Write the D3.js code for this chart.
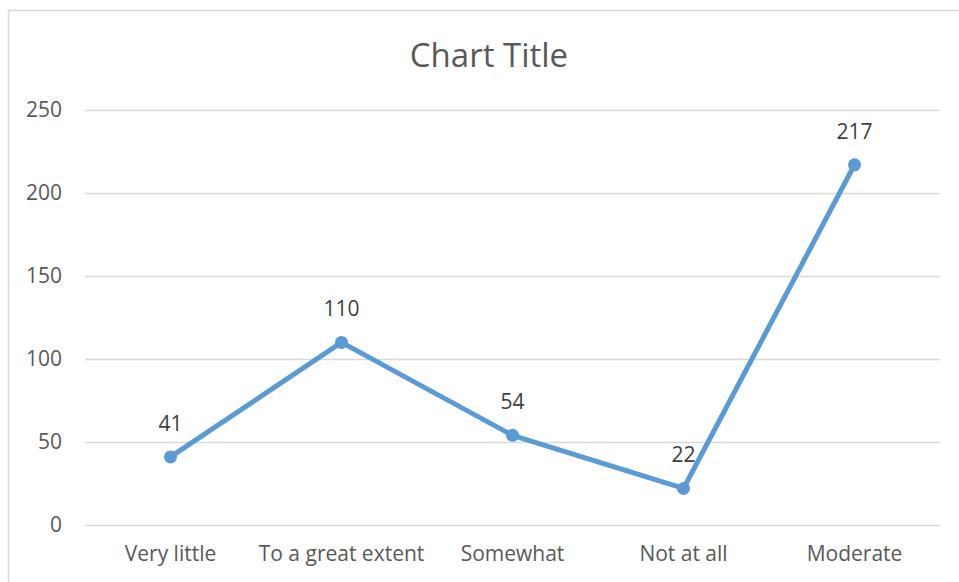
<!DOCTYPE html>
<html>
<head>
<meta charset="utf-8">
<script src="https://cdn.jsdelivr.net/npm/d3@7"></script>
<style>
  body { margin: 0; background: #fff; }
  svg text { font-family: "Open Sans", Calibri, sans-serif; fill: #595959; }
</style>
</head>
<body>
<svg id="chart" width="959" height="582"></svg>
<script>
const categories = ['Very little', 'To a great extent', 'Somewhat', 'Not at all', 'Moderate']
const values = [41, 110, 54, 22, 217]
const yTicks = [0, 50, 100, 150, 200, 250]

const $svg = d3.select('#chart')

const MARGIN = { top: 110, right: 19, bottom: 57, left: 85 }
const width = 959, height = 582
const boundedWidth = width - MARGIN.left - MARGIN.right
const boundedHeight = height - MARGIN.top - MARGIN.bottom

// chart area border
$svg.append('rect')
  .attr('x', 8.5).attr('y', 10.5)
  .attr('width', 970).attr('height', 600)
  .attr('fill', 'none').attr('stroke', '#d9d9d9').attr('stroke-width', 1.5)

const xScale = d3.scaleBand()
  .domain(categories)
  .range([0, boundedWidth])
const yScale = d3.scaleLinear()
  .domain([0, 250])
  .range([boundedHeight, 0])

const $g = $svg.append('g')
  .attr('transform', `translate(${MARGIN.left}, ${MARGIN.top})`)

// gridlines + y labels
const yAxis = d3.axisLeft(yScale)
  .tickValues(yTicks)
  .tickSize(-boundedWidth)
  .tickPadding(23)
const $yAxis = $g.append('g').call(yAxis)
$yAxis.select('.domain').remove()
$yAxis.selectAll('line').attr('stroke', '#d9d9d9').attr('stroke-width', 1.5)
$yAxis.selectAll('text').attr('font-size', 21).style('fill', '#595959')
  .attr('font-family', null)

// x labels
const xAxis = d3.axisBottom(xScale).tickSize(0).tickPadding(21)
const $xAxis = $g.append('g')
  .attr('transform', `translate(0, ${boundedHeight})`)
  .call(xAxis)
$xAxis.select('.domain').remove()
$xAxis.selectAll('text').attr('font-size', 21).style('fill', '#595959')
  .attr('font-family', null)

const cx = d => xScale(d.cat) + xScale.bandwidth() / 2
const points = categories.map((c, i) => ({ cat: c, v: values[i] }))

const line = d3.line()
  .x(cx)
  .y(d => yScale(d.v))

$g.append('path')
  .datum(points)
  .attr('d', line)
  .attr('fill', 'none')
  .attr('stroke', '#5b9bd5')
  .attr('stroke-width', 5)
  .attr('stroke-linejoin', 'round')

$g.selectAll('.dot')
  .data(points)
  .enter()
  .append('circle')
    .attr('class', 'dot')
    .attr('cx', cx)
    .attr('cy', d => yScale(d.v))
    .attr('r', 6.5)
    .attr('fill', '#5b9bd5')

$g.selectAll('.label')
  .data(points)
  .enter()
  .append('text')
    .attr('class', 'label')
    .attr('x', cx)
    .attr('y', d => yScale(d.v) - 26)
    .attr('text-anchor', 'middle')
    .attr('font-size', 21)
    .style('fill', '#404040')
    .text(d => d.v)

$svg.append('text')
  .attr('x', 489)
  .attr('y', 67)
  .attr('text-anchor', 'middle')
  .attr('font-size', 33)
  .text('Chart Title')
</script>
</body>
</html>
